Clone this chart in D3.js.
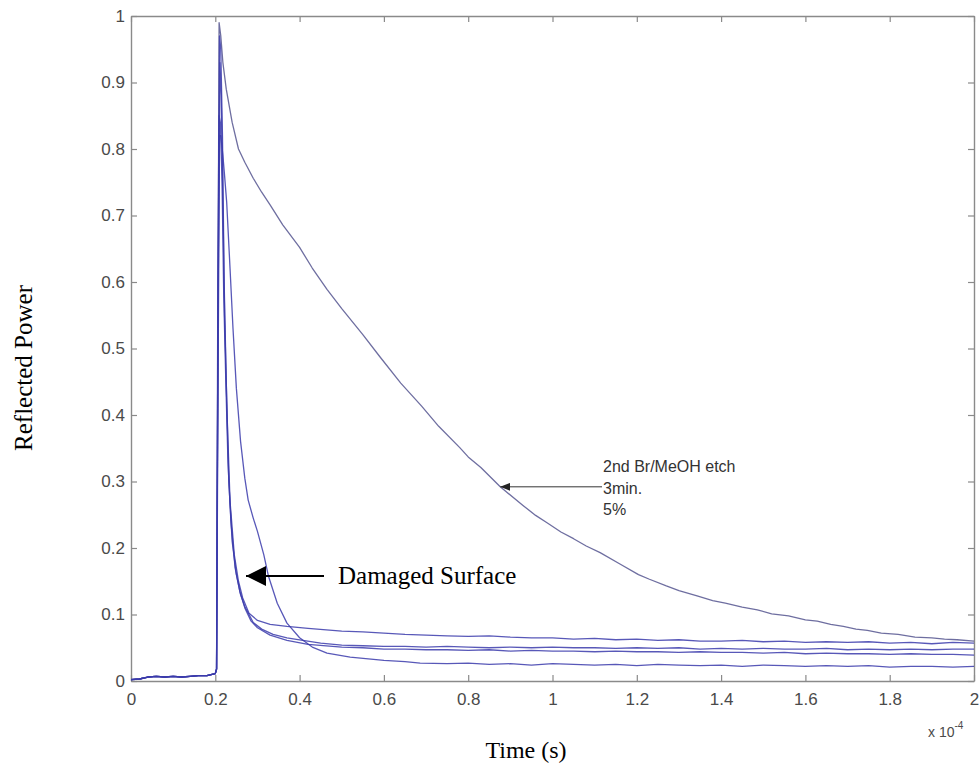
<!DOCTYPE html>
<html>
<head>
<meta charset="utf-8">
<script src="https://cdn.jsdelivr.net/npm/d3@7"></script>
<style>
  html, body { margin: 0; padding: 0; background: #fff; }
  svg { display: block; }
</style>
</head>
<body>
<svg id="chart" width="979" height="766"></svg>
<script>
// Time in units of 1e-4 s, reflected power normalised to the peak.
const xTicks = [0, 0.2, 0.4, 0.6, 0.8, 1, 1.2, 1.4, 1.6, 1.8, 2];
const xTickLabels = ["0", "0.2", "0.4", "0.6", "0.8", "1", "1.2", "1.4", "1.6", "1.8", "2"];
const yTicks = [0, 0.1, 0.2, 0.3, 0.4, 0.5, 0.6, 0.7, 0.8, 0.9, 1];
const yTickLabels = ["0", "0.1", "0.2", "0.3", "0.4", "0.5", "0.6", "0.7", "0.8", "0.9", "1"];

// Signal before the pulse arrives (shared by every trace)
const preTrigger = [
  [0, 0.002], [0.02, 0.003], [0.04, 0.006], [0.06, 0.007], [0.08, 0.006],
  [0.1, 0.007], [0.12, 0.006], [0.14, 0.007], [0.16, 0.008], [0.18, 0.008],
  [0.2, 0.011], [0.203, 0.018]
];

// 2nd Br/MeOH etch, 3 min, 5 % : slow decay
const etchTrace = [
  [0.206, 0.5], [0.209, 0.99], [0.213, 0.97], [0.218, 0.93], [0.226, 0.89],
  [0.24, 0.84], [0.255, 0.80], [0.27, 0.78], [0.29, 0.756], [0.31, 0.735],
  [0.33, 0.716], [0.36, 0.686], [0.4, 0.652], [0.43, 0.621], [0.465, 0.589],
  [0.5, 0.56], [0.55, 0.521], [0.59, 0.488], [0.64, 0.448], [0.69, 0.413],
  [0.73, 0.383], [0.78, 0.351], [0.8, 0.337], [0.83, 0.321], [0.876, 0.292],
  [0.93, 0.264], [0.96, 0.249], [0.987, 0.238], [1.02, 0.224], [1.05, 0.214],
  [1.08, 0.203], [1.113, 0.193], [1.16, 0.176], [1.204, 0.16], [1.23, 0.153],
  [1.27, 0.143], [1.3, 0.136], [1.343, 0.128], [1.38, 0.121], [1.41, 0.117],
  [1.45, 0.111], [1.486, 0.107], [1.52, 0.101], [1.56, 0.098], [1.6, 0.092],
  [1.628, 0.09], [1.66, 0.085], [1.69, 0.082], [1.72, 0.078], [1.747, 0.076],
  [1.78, 0.072], [1.82, 0.07], [1.86, 0.066], [1.9, 0.065], [1.93, 0.063],
  [1.96, 0.062], [2.0, 0.06]
];

// Damaged-surface traces: fast decay to a low plateau
const damagedA = [
  [0.207, 0.6], [0.211, 0.93], [0.214, 0.88], [0.218, 0.72], [0.222, 0.55],
  [0.228, 0.40], [0.235, 0.27], [0.245, 0.19], [0.255, 0.15], [0.265, 0.125],
  [0.28, 0.102], [0.3, 0.091], [0.33, 0.085], [0.37, 0.082], [0.42, 0.079],
  [0.5, 0.075], [0.55, 0.074], [0.6, 0.072], [0.65, 0.07], [0.7, 0.069],
  [0.75, 0.068], [0.8, 0.067], [0.85, 0.068], [0.9, 0.066], [0.95, 0.065],
  [1.0, 0.065], [1.05, 0.063], [1.1, 0.064], [1.15, 0.062], [1.2, 0.063],
  [1.25, 0.061], [1.3, 0.062], [1.35, 0.06], [1.4, 0.06], [1.45, 0.061],
  [1.5, 0.059], [1.55, 0.06], [1.6, 0.058], [1.65, 0.059], [1.7, 0.058],
  [1.75, 0.059], [1.8, 0.057], [1.85, 0.058], [1.9, 0.056], [1.95, 0.058],
  [2.0, 0.057]
];

const damagedB = [
  [0.206, 0.6], [0.21, 0.97], [0.213, 0.95], [0.217, 0.82], [0.221, 0.6],
  [0.226, 0.45], [0.232, 0.3], [0.24, 0.21], [0.25, 0.16], [0.26, 0.13],
  [0.27, 0.112], [0.29, 0.088], [0.31, 0.078], [0.337, 0.07], [0.37, 0.065],
  [0.4, 0.062], [0.45, 0.057], [0.5, 0.054], [0.55, 0.053], [0.6, 0.052],
  [0.65, 0.052], [0.7, 0.051], [0.75, 0.052], [0.8, 0.051], [0.85, 0.05],
  [0.9, 0.051], [0.95, 0.05], [1.0, 0.051], [1.05, 0.05], [1.1, 0.05],
  [1.15, 0.049], [1.2, 0.05], [1.25, 0.049], [1.3, 0.05], [1.35, 0.048],
  [1.4, 0.049], [1.45, 0.048], [1.5, 0.049], [1.55, 0.048], [1.6, 0.048],
  [1.65, 0.049], [1.7, 0.047], [1.75, 0.048], [1.8, 0.047], [1.85, 0.048],
  [1.9, 0.047], [1.95, 0.048], [2.0, 0.048]
];

const damagedC = [
  [0.206, 0.5], [0.209, 0.85], [0.212, 0.84], [0.216, 0.75], [0.22, 0.58],
  [0.225, 0.45], [0.23, 0.33], [0.237, 0.24], [0.247, 0.17], [0.258, 0.135],
  [0.27, 0.11], [0.285, 0.09], [0.3, 0.08], [0.33, 0.069], [0.37, 0.061],
  [0.42, 0.055], [0.5, 0.051], [0.55, 0.05], [0.6, 0.048], [0.65, 0.048],
  [0.7, 0.047], [0.75, 0.047], [0.8, 0.046], [0.85, 0.047], [0.9, 0.045],
  [0.95, 0.046], [1.0, 0.045], [1.05, 0.045], [1.1, 0.044], [1.15, 0.045],
  [1.2, 0.044], [1.25, 0.044], [1.3, 0.043], [1.35, 0.044], [1.4, 0.043],
  [1.45, 0.043], [1.5, 0.042], [1.55, 0.043], [1.6, 0.041], [1.65, 0.042],
  [1.7, 0.041], [1.75, 0.041], [1.8, 0.04], [1.85, 0.041], [1.9, 0.04],
  [1.95, 0.04], [2.0, 0.039]
];

const damagedD = [
  [0.207, 0.5], [0.21, 0.82], [0.213, 0.82], [0.218, 0.79], [0.222, 0.76],
  [0.227, 0.72], [0.235, 0.62], [0.242, 0.53], [0.25, 0.44], [0.26, 0.36],
  [0.27, 0.305], [0.278, 0.272], [0.29, 0.245], [0.3, 0.225], [0.315, 0.19],
  [0.326, 0.158], [0.347, 0.117], [0.37, 0.087], [0.4, 0.065], [0.43, 0.051],
  [0.465, 0.042], [0.52, 0.036], [0.6, 0.031], [0.65, 0.029], [0.686, 0.027],
  [0.75, 0.026], [0.8, 0.027], [0.85, 0.025], [0.9, 0.026], [0.95, 0.024],
  [1.0, 0.026], [1.05, 0.025], [1.1, 0.024], [1.15, 0.025], [1.2, 0.023],
  [1.25, 0.025], [1.3, 0.024], [1.35, 0.023], [1.4, 0.024], [1.45, 0.022],
  [1.5, 0.024], [1.55, 0.023], [1.6, 0.022], [1.65, 0.023], [1.7, 0.022],
  [1.75, 0.023], [1.8, 0.021], [1.85, 0.022], [1.9, 0.022], [1.95, 0.021],
  [2.0, 0.022]
];

const traces = [etchTrace, damagedA, damagedB, damagedC, damagedD];

const etchNote = ["2nd Br/MeOH etch", "3min.", "5%"];
const etchNoteX = 0.876; // time where the note's arrow meets the etch trace

// ---- layout ----
const svg = d3.select("#chart");
const plot = { left: 131, right: 974, top: 16, bottom: 681 };

const x = d3.scaleLinear().domain([0, 2]).range([plot.left, plot.right]);
const y = d3.scaleLinear().domain([0, 1]).range([plot.bottom, plot.top]);

const axisColor = "#8a8a8a";
const labelColor = "#4a4a4a";

function styleAxis(g) {
  g.select(".domain").attr("stroke", axisColor).attr("stroke-width", 1.4);
  g.selectAll(".tick line").attr("stroke", axisColor).attr("stroke-width", 1.2);
  g.selectAll(".tick text")
    .attr("fill", labelColor)
    .attr("font-family", "Liberation Sans, Arial, sans-serif")
    .attr("font-size", 17);
}

svg.append("g")
  .attr("transform", `translate(0,${plot.bottom})`)
  .call(d3.axisBottom(x).tickValues(xTicks).tickSize(-6).tickSizeOuter(0).tickPadding(12)
    .tickFormat((d, i) => xTickLabels[i]))
  .call(styleAxis);

svg.append("g")
  .attr("transform", `translate(0,${plot.top})`)
  .call(d3.axisTop(x).tickValues(xTicks).tickSize(-6).tickSizeOuter(0).tickFormat(""))
  .call(styleAxis);

svg.append("g")
  .attr("transform", `translate(${plot.left},0)`)
  .call(d3.axisLeft(y).tickValues(yTicks).tickSize(-6).tickSizeOuter(0).tickPadding(6)
    .tickFormat((d, i) => yTickLabels[i]))
  .call(styleAxis);

svg.append("g")
  .attr("transform", `translate(${plot.right},0)`)
  .call(d3.axisRight(y).tickValues(yTicks).tickSize(-6).tickSizeOuter(0).tickFormat(""))
  .call(styleAxis);

// ---- traces ----
const line = d3.line().x(d => x(d[0])).y(d => y(d[1]));

svg.append("g")
  .selectAll("path")
  .data(traces)
  .join("path")
  .attr("d", d => line(preTrigger.concat(d)))
  .attr("fill", "none")
  .attr("stroke", (d, i) => i === 0 ? "#55558f" : "#3b3bab")
  .attr("stroke-opacity", 0.85)
  .attr("stroke-width", 1.3)
  .attr("stroke-linejoin", "round");

// ---- axis exponent ----
const expo = svg.append("text")
  .attr("x", 928).attr("y", 737)
  .attr("fill", labelColor)
  .attr("font-family", "Liberation Sans, Arial, sans-serif")
  .attr("font-size", 14);
expo.append("tspan").text("x 10");
expo.append("tspan").attr("dy", -8).attr("font-size", 10).text("-4");

// ---- axis titles ----
svg.append("text")
  .attr("x", 526).attr("y", 758)
  .attr("text-anchor", "middle")
  .attr("font-family", "Liberation Serif, Times New Roman, serif")
  .attr("font-size", 24)
  .attr("fill", "#000")
  .text("Time (s)");

svg.append("text")
  .attr("transform", "translate(32,368) rotate(-90)")
  .attr("text-anchor", "middle")
  .attr("font-family", "Liberation Serif, Times New Roman, serif")
  .attr("font-size", 25)
  .attr("fill", "#000")
  .text("Reflected Power");

// ---- annotations ----
// Arrowheads drawn pointing left, tip at the marker origin
const defs = svg.append("defs");
defs.append("marker")
  .attr("id", "headBig").attr("viewBox", "0 0 20 20")
  .attr("refX", 0).attr("refY", 10)
  .attr("markerWidth", 20).attr("markerHeight", 20)
  .attr("markerUnits", "userSpaceOnUse").attr("orient", "auto")
  .append("path").attr("d", "M0,10 L20,0 L20,20 Z").attr("fill", "#000");
defs.append("marker")
  .attr("id", "headSmall").attr("viewBox", "0 0 10 8")
  .attr("refX", 0).attr("refY", 4)
  .attr("markerWidth", 10).attr("markerHeight", 8)
  .attr("markerUnits", "userSpaceOnUse").attr("orient", "auto")
  .append("path").attr("d", "M0,4 L10,0 L10,8 Z").attr("fill", "#222");

// Damaged surface arrow
svg.append("line")
  .attr("x1", 246).attr("y1", 576).attr("x2", 324).attr("y2", 576)
  .attr("stroke", "#000").attr("stroke-width", 2)
  .attr("marker-start", "url(#headBig)");

svg.append("text")
  .attr("x", 338).attr("y", 584)
  .attr("font-family", "Liberation Serif, Times New Roman, serif")
  .attr("font-size", 25)
  .attr("fill", "#000")
  .text("Damaged Surface");

// Etch note, arrow tip placed on the etch trace
const tipPoint = etchTrace.find(d => d[0] === etchNoteX);
const tipX = x(tipPoint[0]), tipY = y(tipPoint[1]);
svg.append("line")
  .attr("x1", tipX).attr("y1", tipY).attr("x2", 602).attr("y2", tipY)
  .attr("stroke", "#333").attr("stroke-width", 1)
  .attr("marker-start", "url(#headSmall)");

svg.append("text")
  .attr("font-family", "Liberation Sans, Arial, sans-serif")
  .attr("font-size", 16)
  .attr("fill", "#333")
  .selectAll("tspan")
  .data(etchNote)
  .join("tspan")
  .attr("x", 603)
  .attr("y", (d, i) => 472 + i * 21.5)
  .text(d => d);
</script>
</body>
</html>
